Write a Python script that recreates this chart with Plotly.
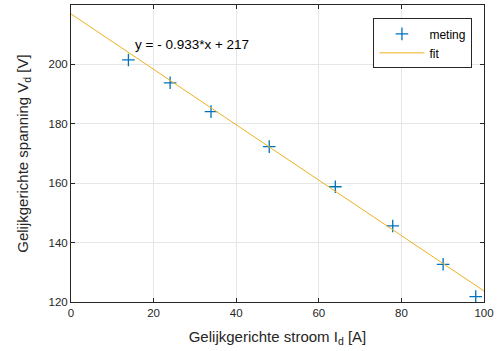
import plotly.graph_objects as go

# Data
stroom = [13.9, 24.0, 33.9, 48.0, 64.0, 77.9, 90.1, 98.0]
spanning = [201.5, 193.8, 184.1, 172.3, 158.8, 145.6, 132.7, 121.8]
fit_slope = -0.933
fit_intercept = 217.0
fit_x = [0, 100]
fit_y = [fit_slope * v + fit_intercept for v in fit_x]

x_ticks = [0, 20, 40, 60, 80, 100]
y_ticks = [120, 140, 160, 180, 200, 220]

blue = "#0072BD"
orange = "#EDB120"
font = "Liberation Sans, Arial, Helvetica, sans-serif"

fig = go.Figure()
fig.add_trace(go.Scatter(
    x=stroom, y=spanning, mode="markers", name="meting",
    marker=dict(symbol="cross-thin", size=9, color=blue,
                line=dict(color=blue, width=1.3)),
))
fig.add_trace(go.Scatter(
    x=fit_x, y=fit_y, mode="lines", name="fit",
    line=dict(color=orange, width=1),
))

fig.add_annotation(
    x=14.9, y=206.8, xref="x", yref="y", text="y = - 0.933*x + 217",
    showarrow=False, xanchor="left", yanchor="middle",
    font=dict(family=font, size=13.5, color="#000000"),
)

axis_common = dict(
    showline=True, linecolor="#262626", linewidth=1, mirror="ticks",
    ticks="inside", ticklen=4, tickcolor="#262626",
    showgrid=True, gridcolor="#e6e6e6", gridwidth=1,
    zeroline=False,
    tickfont=dict(family=font, size=11.5, color="#262626"),
)

fig.update_layout(
    width=503, height=351,
    margin=dict(l=71, r=19, t=5, b=49),
    plot_bgcolor="white", paper_bgcolor="white",
    font=dict(family=font, color="#262626"),
    xaxis=dict(range=[0, 100], tickvals=x_ticks,
               title=dict(text="Gelijkgerichte stroom I<sub>d</sub> [A]",
                          font=dict(family=font, size=15, color="#262626"),
                          standoff=13),
               **axis_common),
    yaxis=dict(range=[120, 220], tickvals=y_ticks,
               title=dict(text="Gelijkgerichte spanning V<sub>d</sub> [V]",
                          font=dict(family=font, size=15, color="#262626"),
                          standoff=16),
               **axis_common),
    legend=dict(x=0.972, y=0.955, xanchor="right", yanchor="top",
                bgcolor="white", bordercolor="#262626", borderwidth=1,
                font=dict(family=font, size=12, color="#000000"),
                tracegroupgap=0, itemwidth=45),
    showlegend=True,
)

fig.write_html("out.html")
